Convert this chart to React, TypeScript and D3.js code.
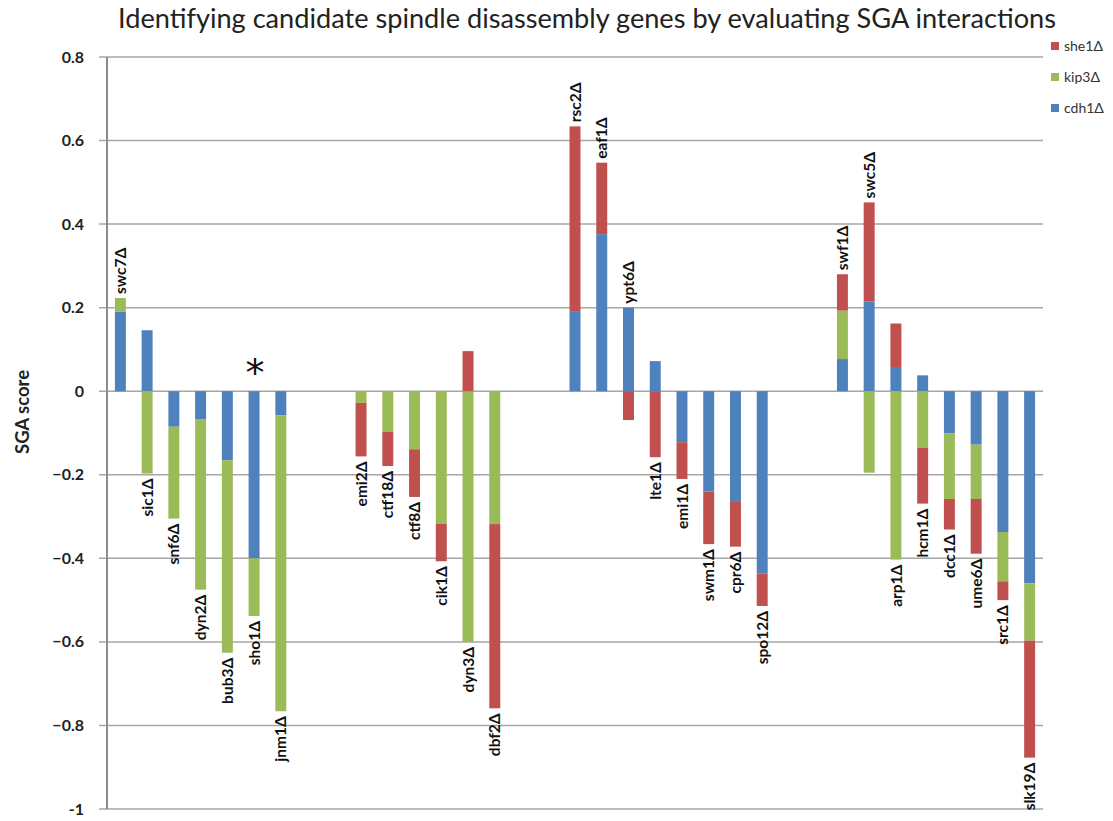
import React, { useEffect, useRef } from "react";
import * as d3 from "d3";

// gene knockouts along the x axis ("" = empty slot between groups)
const genes = [
  "swc7Δ", "sic1Δ", "snf6Δ", "dyn2Δ", "bub3Δ", "sho1Δ", "jnm1Δ", "", "",
  "emi2Δ", "ctf18Δ", "ctf8Δ", "cik1Δ", "dyn3Δ", "dbf2Δ", "", "",
  "rsc2Δ", "eaf1Δ", "ypt6Δ", "lte1Δ", "emi1Δ", "swm1Δ", "cpr6Δ", "spo12Δ", "", "",
  "swf1Δ", "swc5Δ", "arp1Δ", "hcm1Δ", "dcc1Δ", "ume6Δ", "src1Δ", "slk19Δ",
];

const cdh1 = [
  0.19, 0.146, -0.085, -0.068, -0.165, -0.4, -0.058, 0, 0,
  0, 0, 0, 0, 0, 0, 0, 0,
  0.19, 0.376, 0.2, 0.072, -0.122, -0.24, -0.265, -0.436, 0, 0,
  0.077, 0.215, 0.058, 0.038, -0.101, -0.128, -0.337, -0.46,
];

const kip3 = [
  0.033, -0.197, -0.22, -0.407, -0.461, -0.138, -0.708, 0, 0,
  -0.028, -0.097, -0.139, -0.317, -0.6, -0.318, 0, 0,
  0, 0, 0, 0, 0, 0, 0, 0, 0, 0,
  0.116, -0.195, -0.403, -0.135, -0.157, -0.13, -0.118, -0.137,
];

const she1 = [
  0, 0, 0, 0, 0, 0, 0, 0, 0,
  -0.128, -0.082, -0.114, -0.09, 0.096, -0.441, 0, 0,
  0.444, 0.171, -0.069, -0.158, -0.088, -0.126, -0.107, -0.078, 0, 0,
  0.087, 0.237, 0.104, -0.134, -0.073, -0.131, -0.045, -0.28,
];

const seriesKeys = ["cdh1", "kip3", "she1"];
const seriesNames = { cdh1: "cdh1Δ", kip3: "kip3Δ", she1: "she1Δ" };
const colors = { cdh1: "#4F81BD", kip3: "#9BBB59", she1: "#C0504D" };
const yTicks = [0.8, 0.6, 0.4, 0.2, 0, -0.2, -0.4, -0.6, -0.8, -1];
const starGene = "sho1Δ";

const title = "Identifying candidate spindle disassembly genes by evaluating SGA interactions";

const App = () => {
  const chartRef = useRef<SVGSVGElement>(null);

  useEffect(() => {
    const width = 1113;
    const height = 821;
    const margin = { top: 57, right: 70, bottom: 12, left: 107 };

    const table = genes.map((g, i) => ({
      gene: g,
      i,
      cdh1: cdh1[i],
      kip3: kip3[i],
      she1: she1[i],
    }));

    const svg = d3.select(chartRef.current);
    svg.selectAll("*").remove();

    const x = d3
      .scaleBand<number>()
      .domain(d3.range(genes.length))
      .range([margin.left, width - margin.right])
      .paddingInner(0.59)
      .paddingOuter(0.295);

    const y = d3
      .scaleLinear()
      .domain([-1, 0.8])
      .range([height - margin.bottom, margin.top]);

    // gridlines
    svg
      .append("g")
      .selectAll("line")
      .data(yTicks)
      .join("line")
      .attr("x1", margin.left - 8)
      .attr("x2", width - margin.right)
      .attr("y1", (d) => y(d))
      .attr("y2", (d) => y(d))
      .attr("stroke", "#a6a6a6")
      .attr("stroke-width", 1.5);

    // y axis line
    svg
      .append("line")
      .attr("x1", margin.left)
      .attr("x2", margin.left)
      .attr("y1", y(0.8))
      .attr("y2", y(-1))
      .attr("stroke", "#8c8c8c")
      .attr("stroke-width", 2);

    svg
      .append("g")
      .selectAll("text")
      .data(yTicks)
      .join("text")
      .attr("x", 84)
      .attr("y", (d) => y(d))
      .attr("dy", "0.35em")
      .attr("text-anchor", "end")
      .attr("font-family", "Lato, sans-serif")
      .attr("font-weight", "bold")
      .attr("font-size", 16)
      .attr("fill", "#222")
      .text((d) => (d === 0 ? "0" : d === -1 ? "-1" : d3.format(".1f")(d)));

    svg
      .append("text")
      .attr("transform", `translate(29, 412) rotate(-90)`)
      .attr("text-anchor", "middle")
      .attr("font-family", "Lato, sans-serif")
      .attr("font-weight", "bold")
      .attr("font-size", 19)
      .attr("textLength", 84)
      .attr("lengthAdjust", "spacingAndGlyphs")
      .attr("fill", "#222")
      .text("SGA score");

    // stacked bars
    const stacked = d3
      .stack<any>()
      .keys(seriesKeys)
      .offset(d3.stackOffsetDiverging)(table);

    svg
      .append("g")
      .selectAll("g")
      .data(stacked)
      .join("g")
      .attr("fill", (s) => colors[s.key])
      .selectAll("rect")
      .data((s) => s.filter((d) => d[1] !== d[0]))
      .join("rect")
      .attr("x", (d) => x(d.data.i))
      .attr("width", x.bandwidth())
      .attr("y", (d) => y(Math.max(d[0], d[1])))
      .attr("height", (d) => Math.abs(y(d[0]) - y(d[1])));

    // gene labels, above the bar if the total is positive, below otherwise
    const labelled = table.filter((d) => d.gene !== "");
    svg
      .append("g")
      .selectAll("text")
      .data(labelled)
      .join("text")
      .attr("transform", (d) => {
        const cx = x(d.i) + x.bandwidth() / 2;
        const sum = d.cdh1 + d.kip3 + d.she1;
        const top = Math.max(0, d.cdh1) + Math.max(0, d.kip3) + Math.max(0, d.she1);
        const bottom = Math.min(0, d.cdh1) + Math.min(0, d.kip3) + Math.min(0, d.she1);
        const ly = sum >= 0 ? y(top) - 4 : y(bottom) + 5;
        return `translate(${cx}, ${ly}) rotate(-90)`;
      })
      .attr("dy", "0.36em")
      .attr("text-anchor", (d) => (d.cdh1 + d.kip3 + d.she1 >= 0 ? "start" : "end"))
      .attr("font-family", "Lato, sans-serif")
      .attr("font-weight", "bold")
      .attr("font-size", 15.5)
      .attr("fill", "#111")
      .text((d) => d.gene);

    // asterisk over sho1
    const si = genes.indexOf(starGene);
    svg
      .append("text")
      .attr("x", x(si) + x.bandwidth() / 2 + 1)
      .attr("y", y(0) - 5)
      .attr("text-anchor", "middle")
      .attr("font-family", "DejaVu Sans, sans-serif")
      .attr("font-size", 38)
      .attr("fill", "#111")
      .text("*");

    // title
    svg
      .append("text")
      .attr("x", 587)
      .attr("y", 28)
      .attr("text-anchor", "middle")
      .attr("font-family", "Lato, sans-serif")
      .attr("font-size", 26)
      .attr("textLength", 938)
      .attr("lengthAdjust", "spacingAndGlyphs")
      .attr("fill", "#222")
      .text(title);

    // legend (reverse order like Excel)
    const legend = svg
      .append("g")
      .selectAll("g")
      .data(seriesKeys.slice().reverse())
      .join("g")
      .attr("transform", (d, i) => `translate(1051, ${46 + i * 31})`);

    legend
      .append("rect")
      .attr("x", 0)
      .attr("y", -4)
      .attr("width", 8)
      .attr("height", 8)
      .attr("fill", (d) => colors[d]);

    legend
      .append("text")
      .attr("x", 13)
      .attr("dy", "0.35em")
      .attr("font-family", "Lato, sans-serif")
      .attr("font-size", 14)
      .attr("fill", "#333")
      .text((d) => seriesNames[d]);
  }, []);

  return (
    <>
      <style>{`body{margin:0}`}</style>
      <svg ref={chartRef} width={1113} height={821} style={{ display: "block", background: "#fff" }}></svg>
    </>
  );
};

export default App;
